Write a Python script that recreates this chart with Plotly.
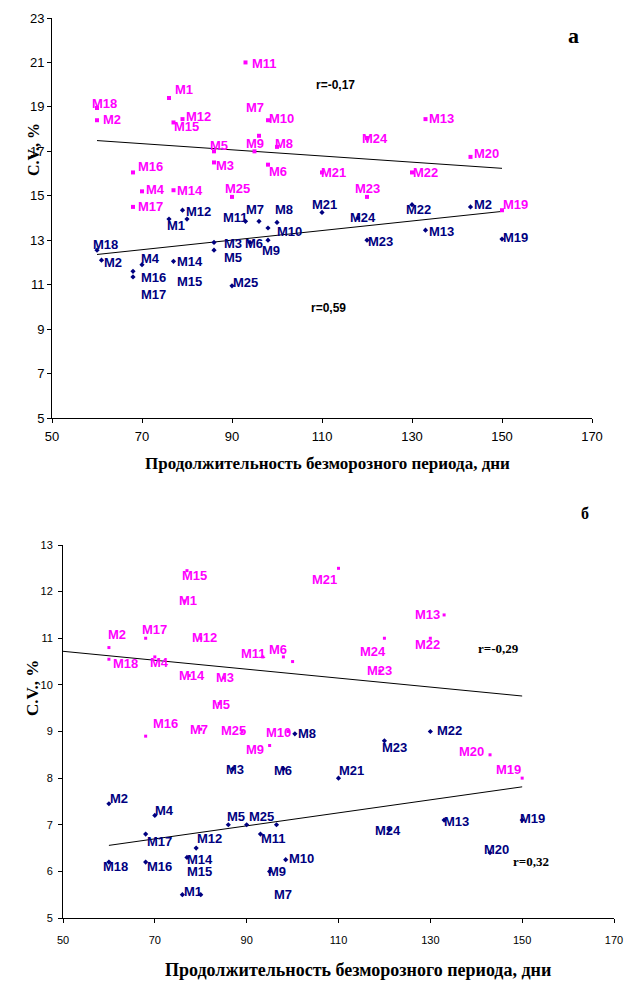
import numpy as np
import plotly.graph_objects as go

# ---------------- DATA ----------------
# Top chart (а): magenta series
top_m_names = ["M1","M2","M3","M4","M5","M6","M7","M8","M9","M10","M11","M12","M13",
               "M14","M15","M16","M17","M18","M19","M20","M21","M22","M23","M24","M25"]
top_m_x = [76,60,86,70,86,98,96,100,95,98,93,79,133,77,77,68,68,60,150,143,110,130,120,120,90]
top_m_y = [19.4,18.4,16.5,15.2,17.0,16.4,17.7,17.2,17.0,18.4,21.0,18.45,18.45,15.25,18.3,
           16.05,14.5,18.95,14.35,16.75,16.05,16.05,14.95,17.6,14.95]

# Top chart (а): navy series
top_b_names = ["M1","M2","M3","M4","M5","M6","M7","M8","M9","M10","M11","M12","M13",
               "M14","M15","M16","M17","M18","M19","M2","M21","M22","M23","M24","M25"]
top_b_x = [76,61,86,70,86,94,96,100,98,98,93,79,133,77,80,68,68,60,150,143,110,130,120,118,90]
top_b_y = [13.95,12.1,12.9,11.9,12.55,12.9,13.85,13.8,13.0,13.55,13.85,14.35,13.45,12.05,13.95,
           11.6,11.35,12.55,13.05,14.5,14.25,14.6,13.0,14.0,10.95]

# Bottom chart (б): magenta series
bot_m_names = ["M1","M2","M3","M4","M5","M6","M7","","M9","M10","M11","M12","M13",
               "M14","M15","M16","M17","M18","M19","M20","M21","M22","M23","M24","M25"]
bot_m_x = [76.5,60,85,70,84,98,80,100,95,99,93.5,80,133,77.5,77,68,68,60,150,143,110,130,119,120,89]
bot_m_y = [11.8,10.8,10.15,10.6,9.6,10.6,9.05,10.5,8.7,9.0,10.6,11.0,11.5,10.2,12.45,
           8.9,11.0,10.55,8.0,8.5,12.5,11.0,10.3,11.0,9.0]

# Bottom chart (б): navy series
bot_b_names = ["M1","M2","M3","M4","M5","M6","M7","M8","M9","M10","M11","M12","M13",
               "M14","M15","M16","M17","M18","M19","M20","M21","M22","M23","M24","M25"]
bot_b_x = [76,60,87,70,86,98,96.5,100.5,95,98.5,93,79,133,77,80,68,68,60,150,143,110,130,120,121,90]
bot_b_y = [5.5,7.45,8.2,7.2,7.0,8.2,7.0,8.95,6.0,6.25,6.8,6.5,7.1,6.3,5.5,
           6.2,6.8,6.2,7.1,6.4,8.0,9.0,8.8,6.9,7.0]

r_texts_top = ["r=-0,17", "r=0,59"]
r_texts_bot = ["r=-0,29", "r=0,32"]
x_title = "Продолжительность безморозного периода, дни"
y_title = "C.V., %"

# ---------------- LABEL PLACEMENT (pixel offsets of label centre from marker) ----------------
top_m_off = [(15,-9),(15,-1),(11,3),(13,-2),(5,-6),(10,7),(-4,-28),(7,-3),(0,-8),(13,-2),(19,1),
             (16,-3),(16,-1),(16,0),(13,4),(17,-6),(17,0),(7,-5),(13,-6),(16,-3),(11,0),(13,0),
             (0,-8),(8,0),(5,-8)]
top_b_off = [(7,6),(11,2),(19,1),(8,-6),(19,7),(4,1),(-4,-12),(7,-13),(3,10),(21,3),(-10,-4),
             (16,1),(16,1),(16,0),(2,62),(20,6),(20,18),(8,-6),(13,-2),(12,-2),(2,-8),(6,5),
             (13,1),(5,-1),(13,-3)]
bot_m_off = [(3,0),(8,-13),(1,0),(5,6),(2,1),(-5,-7),(-2,0),(0,0),(-15,4),(-9,1),(-9,-3),(4,-1),
             (-17,0),(3,0),(8,5),(20,-13),(9,-9),(17,4),(-14,-9),(-19,-3),(-14,11),(-3,6),
             (0,0),(-11,13),(-9,-1)]
bot_b_off = [(11,-3),(10,-5),(2,1),(10,-5),(8,-8),(0,2),(6,70),(12,0),(7,0),(16,-1),(13,4),
             (13,-10),(12,1),(13,2),(-1,-23),(14,4),(14,7),(7,4),(10,-2),(6,-3),(13,-8),
             (19,-1),(10,7),(-1,1),(15,-8)]

MAG = "#FF00FF"
NAVY = "#000080"
SANS = "Liberation Sans, Arial, sans-serif"
SERIF = "Liberation Serif, Times New Roman, serif"

fig = go.Figure()

def add_series(xs, ys, color, symbol, size, xa, ya):
    fig.add_trace(go.Scatter(x=xs, y=ys, mode="markers", xaxis=xa, yaxis=ya,
                             marker=dict(color=color, symbol=symbol, size=size, line=dict(width=0)),
                             hoverinfo="skip"))

def add_trend(xs, ys, x0, x1, xa, ya):
    k, b = np.polyfit(np.array(xs, float), np.array(ys, float), 1)
    xl = np.array([x0, x1], float)
    fig.add_trace(go.Scatter(x=xl, y=k * xl + b, mode="lines", xaxis=xa, yaxis=ya,
                             line=dict(color="black", width=1), hoverinfo="skip"))

def add_labels(names, xs, ys, offs, color, xref, yref, size):
    for n, x, y, (dx, dy) in zip(names, xs, ys, offs):
        if not n:
            continue
        fig.add_annotation(x=x, y=y, xref=xref, yref=yref, text=n, showarrow=False,
                           xshift=dx, yshift=-dy, xanchor="center", yanchor="middle",
                           font=dict(family=SANS, size=size, color=color, weight="bold"))

def add_text(x, y, text, family, size, xref="paper", yref="paper", angle=0):
    fig.add_annotation(x=x, y=y, xref=xref, yref=yref, text=text, showarrow=False,
                       xanchor="center", yanchor="middle", textangle=angle,
                       font=dict(family=family, size=size, color="black", weight="bold"))

# top chart
add_trend(top_m_x, top_m_y, 60, 150, "x", "y")
add_trend(top_b_x, top_b_y, 60, 150, "x", "y")
add_series(top_m_x, top_m_y, MAG, "square", 4, "x", "y")
add_series(top_b_x, top_b_y, NAVY, "diamond", 4, "x", "y")
add_labels(top_m_names, top_m_x, top_m_y, top_m_off, MAG, "x", "y", 13)
add_labels(top_b_names, top_b_x, top_b_y, top_b_off, NAVY, "x", "y", 13)

# bottom chart
add_trend(bot_m_x, bot_m_y, 50, 150, "x2", "y2")
add_trend(bot_b_x, bot_b_y, 60, 150, "x2", "y2")
add_series(bot_m_x, bot_m_y, MAG, "square", 3, "x2", "y2")
add_series(bot_b_x, bot_b_y, NAVY, "diamond", 4, "x2", "y2")
add_labels(bot_m_names, bot_m_x, bot_m_y, bot_m_off, MAG, "x2", "y2", 13)
add_labels(bot_b_names, bot_b_x, bot_b_y, bot_b_off, NAVY, "x2", "y2", 13)

W, H = 624, 983
ax_common = dict(showline=True, linecolor="black", linewidth=1, ticks="outside", ticklen=4,
                 tickcolor="black", showgrid=False, zeroline=False, automargin=False)

fig.update_layout(
    width=W, height=H, margin=dict(l=0, r=0, t=0, b=0),
    plot_bgcolor="white", paper_bgcolor="white", showlegend=False,
    xaxis=dict(domain=[52/W, 592/W], range=[50, 170], dtick=20, tick0=50, anchor="y",
               ticklabelstandoff=2,
               tickfont=dict(family=SANS, size=13, color="black"), **ax_common),
    yaxis=dict(domain=[1-418/H, 1-18/H], range=[5, 23], dtick=2, tick0=5, anchor="x",
               tickfont=dict(family=SANS, size=13, color="black"), **ax_common),
    xaxis2=dict(domain=[63/W, 614/W], range=[50, 170], dtick=20, tick0=50, anchor="y2",
                ticklabelstandoff=8,
                tickfont=dict(family=SANS, size=11, color="black"), **ax_common),
    yaxis2=dict(domain=[1-918/H, 1-545/H], range=[5, 13], dtick=1, tick0=5, anchor="x2",
                ticklabelstandoff=3,
                tickfont=dict(family=SANS, size=11, color="black"), **ax_common),
)

# r annotations
add_text(112.9, 19.98, r_texts_top[0], SANS, 12, "x", "y")
add_text(111.4, 9.94, r_texts_top[1], SANS, 12, "x", "y")
add_text(144.8, 10.79, r_texts_bot[0], SERIF, 13, "x2", "y2")
add_text(151.9, 6.21, r_texts_bot[1], SERIF, 13, "x2", "y2")

# panel letters
add_text(573/W, 1-35/H, "а", SERIF, 22)
add_text(585/W, 1-513/H, "б", SERIF, 16)

# axis titles
add_text(327/W, 1-463/H, x_title, SERIF, 17)
add_text(358/W, 1-970/H, x_title, SERIF, 18)
add_text(33/W, 1-150/H, y_title, SERIF, 16, angle=-90)
add_text(32/W, 1-688/H, y_title, SERIF, 17, angle=-90)

fig.write_html("out.html", config={"displayModeBar": False},
               post_script="document.body.style.margin='0px';document.body.style.padding='0px';")
